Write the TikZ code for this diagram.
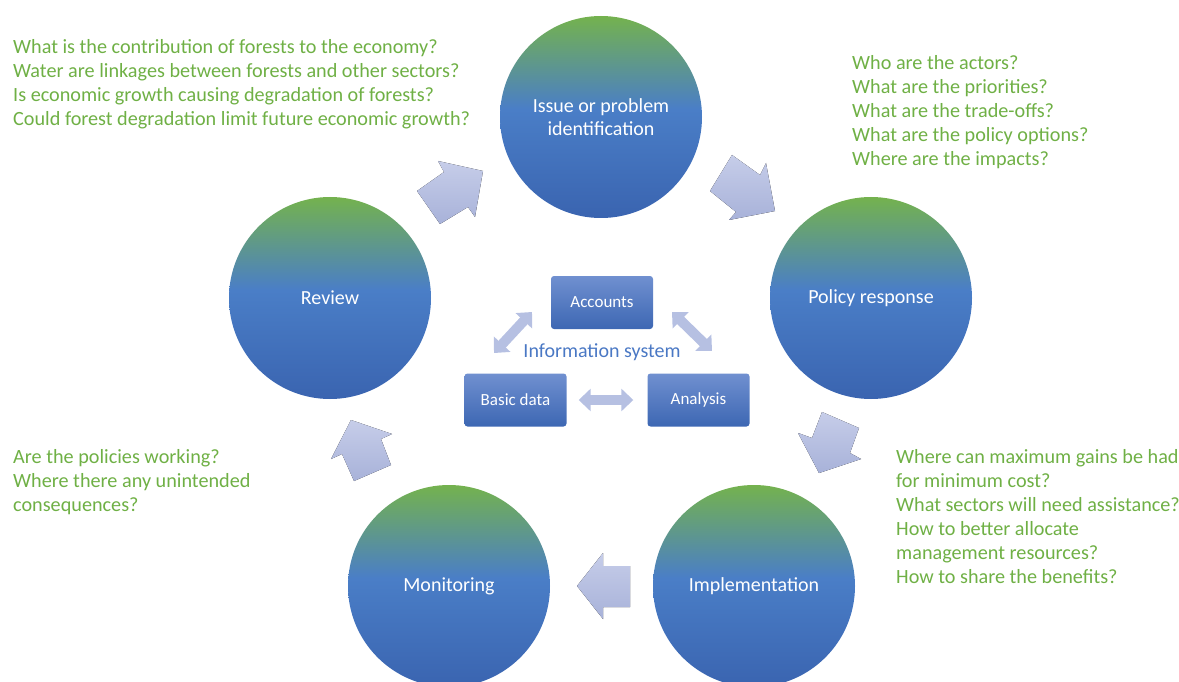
\documentclass[tikz,border=0pt]{standalone}
\usepackage{fontspec}
\setmainfont{Carlito}
\usetikzlibrary{arrows.meta}
\definecolor{ctop}{HTML}{74B24E}
\definecolor{cmid}{HTML}{4A7EC7}
\definecolor{cbot}{HTML}{3A64B0}
\definecolor{qgreen}{HTML}{6FB045}
\definecolor{infoblue}{HTML}{4A78C4}
\definecolor{boxtop}{HTML}{7090D0}
\definecolor{boxbot}{HTML}{3D67B3}
\definecolor{arrtop}{HTML}{C6CDE9}
\definecolor{arrbot}{HTML}{A8B2D9}
\definecolor{arrmid}{HTML}{B6C0E2}
\pgfdeclareverticalshading{circshade}{100bp}{color(0bp)=(cbot); color(25bp)=(cbot); color(52bp)=(cmid); color(75bp)=(ctop); color(100bp)=(ctop)}
\begin{document}
\begin{tikzpicture}[x=1pt,y=-1pt,
  stage/.style={circle, minimum size=202pt, inner sep=0pt, shading=circshade, text=white, align=center, font=\fontsize{20}{23}\selectfont},
  infobox/.style={rectangle, rounded corners=3pt, minimum width=102pt, minimum height=53pt, inner sep=0pt, top color=boxtop, bottom color=boxbot, text=white, font=\fontsize{17}{20}\selectfont},
  question/.style={anchor=north west, inner sep=0pt, align=left, text=qgreen, font=\fontsize{20.2}{24}\selectfont},
  blockarrow/.style={top color=arrtop, bottom color=arrbot, draw=none},
  dbl/.style={line width=10pt, draw=arrmid, {Triangle[length=12pt,width=22pt]}-{Triangle[length=12pt,width=22pt]}}
]
\useasboundingbox (0,0) rectangle (1179,682);

% stages
\node[stage] (issue) at (601,117) {Issue or problem\\identification};
\node[stage] (policy) at (871,298) {Policy response};
\node[stage] (impl) at (754,586) {Implementation};
\node[stage] (monit) at (449,586) {Monitoring};
\node[stage] (review) at (330,298) {Review};

% block arrows
\fill[blockarrow] (483,171) -- (438,161) -- (444,172) -- (417,191) -- (440,224) -- (468,207) -- (475,217) -- cycle;
\fill[blockarrow] (775,211) -- (766,163) -- (760,175) -- (732,155) -- (710,191) -- (736,212) -- (729,220) -- cycle;
\fill[blockarrow] (819,473) -- (861,459) -- (850,453) -- (859,428) -- (822,412) -- (812,438) -- (798,433) -- cycle;
\fill[blockarrow] (577,586) -- (603,553) -- (603,566) -- (630,566) -- (630,607) -- (603,607) -- (603,619) -- cycle;
\fill[blockarrow] (351,420) -- (392,434) -- (381,439) -- (391,465) -- (354,481) -- (342,454) -- (331,459) -- cycle;

% information system
\node[infobox] (accounts) at (602,302.5) {Accounts};
\node[infobox] (basic) at (515.5,400) {Basic data};
\node[infobox] (analysis) at (698.5,400) {Analysis};
\node[text=infoblue, font=\fontsize{20}{23}\selectfont] (info) at (602,352) {Information system};

\coordinate (l1) at (494,353);
\coordinate (l2) at (532,312);
\coordinate (r1) at (672,312);
\coordinate (r2) at (712,351);
\draw[dbl] (l1) -- (l2);
\draw[dbl] (r1) -- (r2);
\draw[dbl] ([xshift=12pt]basic.east) -- ([xshift=-14pt]analysis.west);

% questions
\node[question] (q1) at (13,39.5) {What is the contribution of forests to the economy?\\Water are linkages between forests and other sectors?\\Is economic growth causing degradation of forests?\\Could forest degradation limit future economic growth?};
\node[question] (q2) at (852,55.5) {Who are the actors?\\What are the priorities?\\What are the trade-offs?\\What are the policy options?\\Where are the impacts?};
\node[question] (q3) at (896,449.5) {Where can maximum gains be had\\for minimum cost?\\What sectors will need assistance?\\How to better allocate\\management resources?\\How to share the benefits?};
\node[question] (q4) at (13,449.5) {Are the policies working?\\Where there any unintended\\consequences?};
\end{tikzpicture}
\end{document}
